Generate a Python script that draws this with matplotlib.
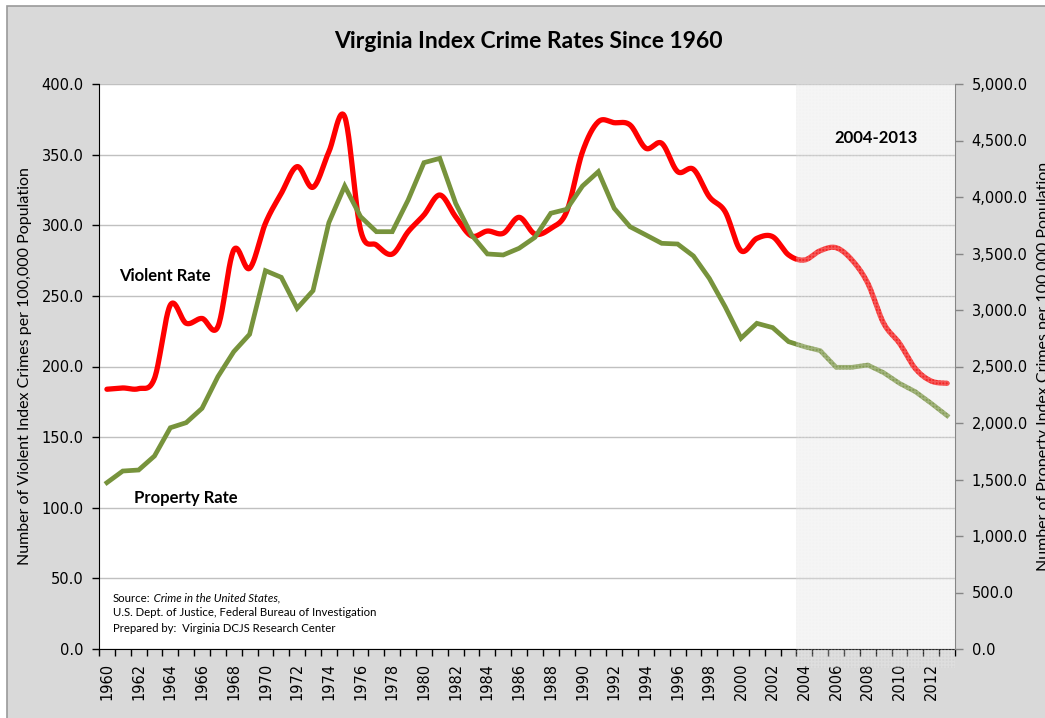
import numpy as np
import matplotlib
matplotlib.use('Agg')
import matplotlib.pyplot as plt
from matplotlib.patches import Rectangle
import matplotlib.transforms as mtransforms
from matplotlib.ticker import FuncFormatter, MultipleLocator

# ---------------- data ----------------
years = list(range(1960, 2014))
violent_rate = [183.9, 184.8, 184.3, 191.6, 243.5, 230.6, 234.0, 228.2, 282.5, 269.5,
                301.4, 322.6, 341.5, 326.9, 352.0, 376.8, 296.6, 286.0, 279.6, 295.4,
                307.3, 321.4, 306.0, 292.4, 295.9, 294.3, 305.6, 293.8, 297.8, 309.6,
                352.0, 373.3, 372.6, 371.0, 354.5, 358.0, 338.0, 339.6, 320.2, 309.6,
                282.0, 290.7, 291.9, 279.0, 275.4, 282.0, 284.1, 275.4, 258.9, 230.6,
                216.4, 198.5, 189.7, 188.1]
property_rate = [1472, 1575, 1584, 1708, 1958, 2003, 2130, 2410, 2631, 2785,
                 3348, 3289, 3015, 3171, 3773, 4097, 3826, 3693, 3693, 3973,
                 4304, 4342, 3944, 3664, 3496, 3487, 3546, 3643, 3856, 3891,
                 4097, 4224, 3900, 3737, 3664, 3590, 3584, 3478, 3280, 3029,
                 2750, 2882, 2844, 2720, 2675, 2640, 2493, 2493, 2513, 2445,
                 2351, 2277, 2174, 2065]
shade_years = (2004, 2013)
shade_label = "2004-2013"
title = "Virginia Index Crime Rates Since 1960"
left_label = "Number of Violent Index Crimes per 100,000 Population"
right_label = "Number of Property Index Crimes per 100,000 Population"

RED = '#FF0000'
GREEN = '#77933C'
BG = '#D9D9D9'


def smooth(x, y, n=24):
    """Excel-like smoothed line (Catmull-Rom as cubic Bezier)."""
    P = np.column_stack([np.asarray(x, float), np.asarray(y, float)])
    Pe = np.vstack([P[0], P, P[-1]])
    t = np.linspace(0, 1, n, endpoint=False)[:, None]
    out = []
    for i in range(len(P) - 1):
        p0, p1, p2, p3 = Pe[i], Pe[i + 1], Pe[i + 2], Pe[i + 3]
        c1 = p1 + (p2 - p0) / 6.0
        c2 = p2 - (p3 - p1) / 6.0
        b = ((1 - t) ** 3) * p1 + 3 * ((1 - t) ** 2) * t * c1 + 3 * (1 - t) * t ** 2 * c2 + t ** 3 * p2
        out.append(b)
    out.append(P[-1][None, :])
    out = np.vstack(out)
    return out[:, 0], out[:, 1]


W, H = 1045, 718
fig = plt.figure(figsize=(W / 100, H / 100), dpi=100, facecolor='white')

# grey chart panel with border
fig.patches.append(Rectangle((7 / W, -0.01), 1.0, 1 - 6 / H + 0.01, transform=fig.transFigure,
                             facecolor=BG, edgecolor='#9A9A9A', linewidth=1.2, zorder=-10))

L, R, T, B = 99, 955, 84, 649
ax = fig.add_axes([L / W, 1 - B / H, (R - L) / W, (B - T) / H])
ax.set_facecolor('white')
ax2 = ax.twinx()

xs = np.arange(len(years))

# violent (smoothed, left axis)
sx, sy = smooth(xs, violent_rate)
ax.plot(sx, sy, color=RED, lw=3.8, solid_capstyle='round', zorder=3)
# property (straight, right axis)
ax2.plot(xs, property_rate, color=GREEN, lw=3.4, solid_joinstyle='miter', zorder=3)

ax.set_xlim(-0.5, len(years) - 0.5)
ax.set_ylim(0, 400)
ax2.set_ylim(0, 5000)

ax.yaxis.set_major_locator(MultipleLocator(50))
ax2.yaxis.set_major_locator(MultipleLocator(500))
ax.yaxis.set_major_formatter(FuncFormatter(lambda v, p: f"{v:.1f}"))
ax2.yaxis.set_major_formatter(FuncFormatter(lambda v, p: f"{v:,.1f}"))

ax.grid(axis='y', color='#C0C0C0', lw=1.0)
ax.set_axisbelow(True)

# x ticks: labels every 2 years at centres, tick marks at category boundaries
ax.set_xticks(xs[::2])
ax.set_xticklabels([str(y) for y in years[::2]], rotation=90, fontsize=10.5,
                   family='DejaVu Sans')
ax.set_xticks(np.arange(-0.5, len(years) + 0.5, 1), minor=True)
ax.tick_params(axis='x', which='major', length=0, pad=10)
ax.tick_params(axis='x', which='minor', length=5, width=1, color='black')

ax.tick_params(axis='y', which='major', length=5, width=1, color='black',
               labelsize=10.5, pad=6)
ax2.tick_params(axis='y', which='major', length=6, width=1, color='#868686',
                labelsize=10.5, pad=6)
for lab in ax.get_yticklabels() + ax2.get_yticklabels():
    lab.set_family('DejaVu Sans')

for s in ['top', 'right']:
    ax.spines[s].set_visible(False)
for s in ['top', 'left', 'bottom']:
    ax2.spines[s].set_visible(False)
ax.spines['left'].set_color('black')
ax.spines['bottom'].set_color('black')
ax2.spines['right'].set_color('#868686')

# shaded period
i0 = years.index(shade_years[0]) - 0.5
i1 = years.index(shade_years[1]) + 0.5
trans = mtransforms.blended_transform_factory(ax2.transData, ax2.transAxes)
shade = Rectangle((i0, -0.034), i1 - i0, 1.034, transform=trans,
                  facecolor=(0.78, 0.78, 0.78, 0.2), edgecolor=(1, 1, 1, 0.22),
                  linewidth=0, hatch='+++++', clip_on=False, zorder=5)
ax2.add_patch(shade)

# labels
ax.set_ylabel(left_label, family='Lato', fontsize=11.5)
ax.yaxis.set_label_coords(-0.078, 0.5)
fig.text(1037 / W, 1 - 366 / H, right_label, rotation=90, rotation_mode='anchor',
         ha='center', va='top', family='Lato', fontsize=11.5)

fig.text(528 / W, 1 - 42 / H, title, ha='center', va='center', family='Lato',
         fontweight='bold', fontsize=16.5)

ax.text(0.75, 264, "Violent Rate", family='Lato', fontweight='bold', fontsize=12,
        va='center', ha='left', zorder=6)
ax.text(1.7, 107, "Property Rate", family='Lato', fontweight='bold', fontsize=12,
        va='center', ha='left', zorder=6)
ax2.text((i0 + i1) / 2, 4525, shade_label, family='Lato', fontweight='bold',
         fontsize=12, va='center', ha='center', zorder=7)

# source note
sx0 = (113 - L) / (R - L)
t1 = ax.text(sx0, (B - 598) / (B - T), "Source:", transform=ax.transAxes,
             family='Lato', fontsize=8.2, va='center', ha='left', zorder=6)
ax.annotate(" Crime in the United States,", xy=(1, 0.5), xycoords=t1,
            family='Lato', fontsize=8.2, style='italic', va='center', ha='left')
ax.text(sx0, (B - 613) / (B - T), "U.S. Dept. of Justice, Federal Bureau of Investigation",
        transform=ax.transAxes, family='Lato', fontsize=8.2, va='center', ha='left')
ax.text(sx0, (B - 629) / (B - T), "Prepared by:  Virginia DCJS Research Center",
        transform=ax.transAxes, family='Lato', fontsize=8.2, va='center', ha='left')

fig.savefig('out.png', dpi=100, facecolor=fig.get_facecolor())
